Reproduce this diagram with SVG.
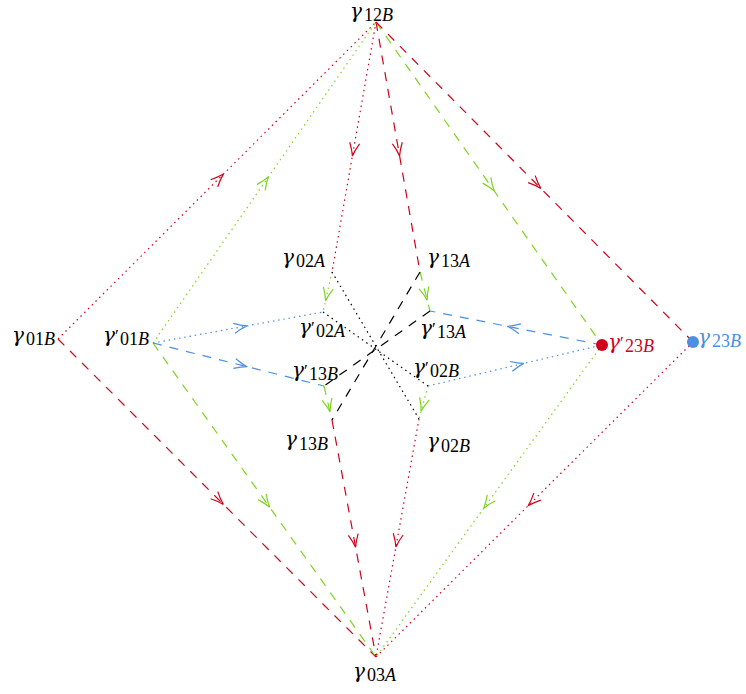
<svg xmlns="http://www.w3.org/2000/svg" width="746" height="694" viewBox="0 0 746 694">
<style>
.e{fill:none;stroke-width:1.2}
.r{stroke:#d0021b}.g{stroke:#7ed321}.b{stroke:#4a90e2}.k{stroke:#000}
.da{stroke-dasharray:9 8}
.do{stroke-dasharray:1.5 3.8}
.r.e{marker-mid:url(#ar)}.g.e{marker-mid:url(#ag)}.b.e{marker-mid:url(#ab)}
text{font-family:"Liberation Serif","DejaVu Serif",serif;fill:#000}
.gm{font-family:"DejaVu Serif",serif;font-size:20px;font-style:italic}
.sb{font-size:18px}
.it{font-style:italic}
.pr{font-size:17px}
.red tspan{fill:#d0021b}
.blu tspan{fill:#4a90e2}
</style>
<defs>
<marker id="ar" markerUnits="userSpaceOnUse" orient="auto" markerWidth="30" markerHeight="30" viewBox="-15 -15 30 30" refX="0" refY="0" overflow="visible"><path d="M -13,-5 Q -6,-1.5 0,0 Q -6,1.5 -13,5" fill="none" stroke="#d0021b" stroke-width="1.2"/></marker>
<marker id="ag" markerUnits="userSpaceOnUse" orient="auto" markerWidth="30" markerHeight="30" viewBox="-15 -15 30 30" refX="0" refY="0" overflow="visible"><path d="M -13,-5 Q -6,-1.5 0,0 Q -6,1.5 -13,5" fill="none" stroke="#7ed321" stroke-width="1.2"/></marker>
<marker id="ab" markerUnits="userSpaceOnUse" orient="auto" markerWidth="30" markerHeight="30" viewBox="-15 -15 30 30" refX="0" refY="0" overflow="visible"><path d="M -13,-5 Q -6,-1.5 0,0 Q -6,1.5 -13,5" fill="none" stroke="#4a90e2" stroke-width="1.2"/></marker>
</defs>
<rect width="746" height="694" fill="#fff"/>
<g id="connectors">
<polyline class="e r do" points="58,339 223.4,174.1 376,22"/>
<polyline class="e g do" points="153,343 268.5,176.8 376,22"/>
<polyline class="e r do" points="376,22 352.4,155.9 332,272"/>
<polyline class="e r da" points="376,22 399.6,155.9 420,272"/>
<polyline class="e g da" points="376,22 494.2,190.9 602,345"/>
<polyline class="e r da" points="376,22 540.8,188.4 693,342"/>
<polyline class="e r da" points="58,339 223.4,504.4 376,657"/>
<polyline class="e g da" points="153,343 269.7,507.3 376,657"/>
<polyline class="e g do" points="602,345 483.7,508.3 376,657"/>
<polyline class="e r do" points="693,342 528.1,505.8 376,657"/>
<polyline class="e r da" points="332,420 355.6,547.3 376,657"/>
<polyline class="e r do" points="419,419 395.9,546.9 376,657"/>
<polyline class="e g do" points="332,272 325.5,300.8 323,312"/>
<polyline class="e g da" points="420,272 427.2,300.2 430,311"/>
<polyline class="e g da" points="324,386 330,411.8 332,420"/>
<polyline class="e g do" points="428,386 421.1,411.2 419,419"/>
<polyline class="e b do" points="153,343 246.9,325.9 323,312"/>
<polyline class="e b da" points="153,343 247.2,366.7 324,386"/>
<polyline class="e b da" points="602,345 507.2,326.3 430,311"/>
<polyline class="e b do" points="428,386 523.8,363.4 602,345"/>
<line class="k do" x1="332" y1="272" x2="419" y2="419" stroke-width="1.2"/>
<line class="k do" x1="323" y1="312" x2="428" y2="386" stroke-width="1.2"/>
<line class="k da" x1="420" y1="272" x2="332" y2="420" stroke-width="1.2"/>
<line class="k da" x1="430" y1="311" x2="324" y2="386" stroke-width="1.2"/>
</g>
<g id="n12B"><text><tspan class="gm" x="350" y="18">γ</tspan><tspan class="sb" x="364" y="21">12<tspan class="it">B</tspan></tspan></text></g>
<g id="n01B"><text><tspan class="gm" x="12" y="342">γ</tspan><tspan class="sb" x="26" y="345">01<tspan class="it">B</tspan></tspan></text></g>
<g id="n01Bp"><text><tspan class="gm" x="103" y="342">γ</tspan><tspan class="pr" x="115" y="341">′</tspan><tspan class="sb" x="120" y="345">01<tspan class="it">B</tspan></tspan></text></g>
<g id="n23Bp"><circle cx="602" cy="345" r="6" fill="#d0021b"/><text class="red"><tspan class="gm" x="608" y="349">γ</tspan><tspan class="pr" x="620" y="348">′</tspan><tspan class="sb" x="625" y="352">23<tspan class="it">B</tspan></tspan></text></g>
<g id="n23B"><circle cx="693" cy="342" r="6" fill="#4a90e2"/><text class="blu"><tspan class="gm" x="698" y="344">γ</tspan><tspan class="sb" x="712" y="347">23<tspan class="it">B</tspan></tspan></text></g>
<g id="n03A"><text><tspan class="gm" x="353" y="678">γ</tspan><tspan class="sb" x="367" y="681">03<tspan class="it">A</tspan></tspan></text></g>
<g id="n02A"><text><tspan class="gm" x="282" y="264">γ</tspan><tspan class="sb" x="296" y="267">02<tspan class="it">A</tspan></tspan></text></g>
<g id="n13A"><text><tspan class="gm" x="427" y="264">γ</tspan><tspan class="sb" x="441" y="267">13<tspan class="it">A</tspan></tspan></text></g>
<g id="n02Ap"><text><tspan class="gm" x="299" y="334">γ</tspan><tspan class="pr" x="311" y="333">′</tspan><tspan class="sb" x="316" y="337">02<tspan class="it">A</tspan></tspan></text></g>
<g id="n13Ap"><text><tspan class="gm" x="420" y="335">γ</tspan><tspan class="pr" x="432" y="334">′</tspan><tspan class="sb" x="437" y="338">13<tspan class="it">A</tspan></tspan></text></g>
<g id="n13Bp"><text><tspan class="gm" x="292" y="377">γ</tspan><tspan class="pr" x="304" y="376">′</tspan><tspan class="sb" x="309" y="380">13<tspan class="it">B</tspan></tspan></text></g>
<g id="n02Bp"><text><tspan class="gm" x="413" y="374">γ</tspan><tspan class="pr" x="425" y="373">′</tspan><tspan class="sb" x="430" y="377">02<tspan class="it">B</tspan></tspan></text></g>
<g id="n13B"><text><tspan class="gm" x="285" y="446">γ</tspan><tspan class="sb" x="299" y="450">13<tspan class="it">B</tspan></tspan></text></g>
<g id="n02B"><text><tspan class="gm" x="427" y="448">γ</tspan><tspan class="sb" x="441" y="452">02<tspan class="it">B</tspan></tspan></text></g>
</svg>
